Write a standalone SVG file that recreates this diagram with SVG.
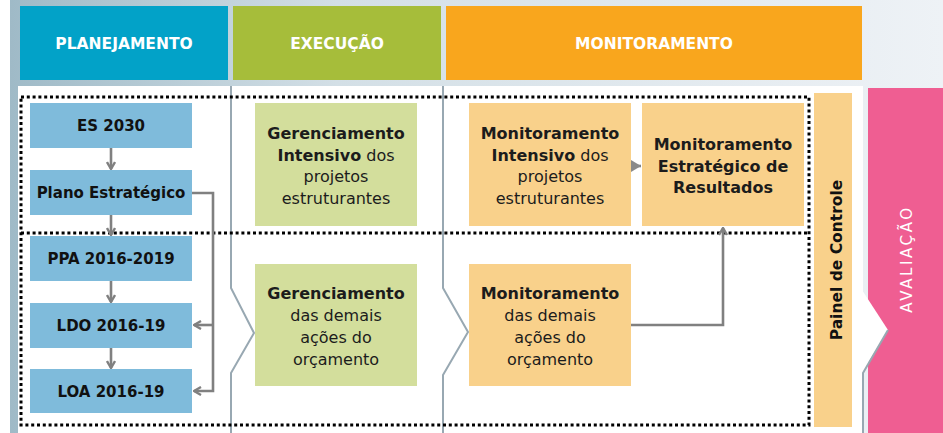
<svg xmlns="http://www.w3.org/2000/svg" width="943" height="433" viewBox="0 0 943 433">
<defs>
<linearGradient id="bg" x1="0" y1="0" x2="1" y2="0">
<stop offset="0" stop-color="#9fbac7"/>
<stop offset="0.35" stop-color="#d3dfe6"/>
<stop offset="1" stop-color="#eef2f6"/>
</linearGradient>
<marker id="av" viewBox="0 0 10 10" refX="9" refY="5" markerWidth="10" markerHeight="10" markerUnits="userSpaceOnUse" orient="auto">
<path d="M2,1 L9,5 L2,9" fill="none" stroke="#808080" stroke-width="2.4" stroke-linejoin="miter"/>
</marker>
<marker id="tri" viewBox="0 0 10 12" refX="10" refY="6" markerWidth="10" markerHeight="12" markerUnits="userSpaceOnUse" orient="auto">
<path d="M0,0 L10,6 L0,12 Z" fill="#8a8a8a"/>
</marker>
</defs>
<style>
.hd{font-family:"DejaVu Sans",sans-serif;font-weight:bold;font-size:15.5px;fill:#ffffff;text-anchor:middle}
.bl{fill:#7fbbdb}
.gr{fill:#d3de9c}
.or{fill:#f9d18b}
.bt{font-family:"DejaVu Sans",sans-serif;font-weight:bold;font-size:15px;fill:#111111;text-anchor:middle}
.tx{font-family:"DejaVu Sans",sans-serif;font-size:16px;fill:#1c1c1c;text-anchor:middle}
.b{font-weight:bold}
.sep{fill:none;stroke:#98a8b2;stroke-width:2}
.dot{fill:none;stroke:#000000;stroke-width:3;stroke-dasharray:3 2.8}
.cn{fill:none;stroke:#808080;stroke-width:2.6}
</style>
<rect x="0" y="0" width="943" height="433" fill="#ffffff"/>
<rect x="10" y="0" width="933" height="433" fill="url(#bg)"/>
<g id="headers">
<g id="h-planejamento"><rect x="20" y="6" width="208" height="74" fill="#02a2c8"/><text class="hd" x="124" y="49">PLANEJAMENTO</text></g>
<g id="h-execucao"><rect x="233" y="6" width="208" height="74" fill="#a6bd3a"/><text class="hd" x="337" y="49">EXECUÇÃO</text></g>
<g id="h-monitoramento"><rect x="446" y="6" width="416" height="74" fill="#f9a61d"/><text class="hd" x="654" y="49">MONITORAMENTO</text></g>
</g>
<g id="avaliacao">
<rect x="868" y="88" width="75" height="345" fill="#ef5e92"/>
<text font-family="DejaVu Sans, sans-serif" font-size="15" fill="#ffffff" text-anchor="middle" letter-spacing="2.6" transform="translate(912,259) rotate(-90)">AVALIAÇÃO</text>
</g>
<g id="panels">
<rect x="18" y="86" width="845" height="347" fill="#ffffff"/>
<polygon points="862,290 888,330 862,373" fill="#ffffff"/>
<polyline class="sep" points="888,330 863,373 863,433"/>
<polyline class="sep" points="231,86 231,288 254,333 231,373 231,433"/>
<polyline class="sep" points="443,86 443,288 468,332 443,375 443,433"/>
</g>
<g id="painel">
<rect x="814" y="93" width="38" height="334" fill="#f9d18b"/>
<text font-family="DejaVu Sans, sans-serif" font-weight="bold" font-size="15.5" fill="#111111" text-anchor="middle" transform="translate(842,260) rotate(-90)">Painel de Controle</text>
</g>
<g id="dotted">
<rect class="dot" x="21" y="97" width="788" height="328"/>
<line class="dot" x1="21" y1="233" x2="809" y2="233"/>
</g>
<g id="es2030"><rect class="bl" x="30" y="103" width="162" height="45"/><text class="bt" x="111" y="131">ES 2030</text></g>
<g id="plano"><rect class="bl" x="30" y="170" width="162" height="45"/><text class="bt" x="111" y="198">Plano Estratégico</text></g>
<g id="ppa"><rect class="bl" x="30" y="236" width="162" height="45"/><text class="bt" x="111" y="264">PPA 2016-2019</text></g>
<g id="ldo"><rect class="bl" x="30" y="303" width="162" height="45"/><text class="bt" x="111" y="331">LDO 2016-19</text></g>
<g id="loa"><rect class="bl" x="30" y="369" width="162" height="44"/><text class="bt" x="111" y="396.5">LOA 2016-19</text></g>
<g id="ger-intensivo"><rect class="gr" x="255" y="103" width="162" height="123"/>
<text class="tx" x="336" y="139"><tspan class="b">Gerenciamento</tspan></text>
<text class="tx" x="336" y="160.5"><tspan class="b">Intensivo</tspan> dos</text>
<text class="tx" x="336" y="182">projetos</text>
<text class="tx" x="336" y="203.5">estruturantes</text></g>
<g id="ger-demais"><rect class="gr" x="255" y="264" width="162" height="122"/>
<text class="tx" x="336" y="299"><tspan class="b">Gerenciamento</tspan></text>
<text class="tx" x="336" y="321">das demais</text>
<text class="tx" x="336" y="343">ações do</text>
<text class="tx" x="336" y="365">orçamento</text></g>
<g id="mon-intensivo"><rect class="or" x="469" y="103" width="162" height="123"/>
<text class="tx" x="550" y="139"><tspan class="b">Monitoramento</tspan></text>
<text class="tx" x="550" y="160.5"><tspan class="b">Intensivo</tspan> dos</text>
<text class="tx" x="550" y="182">projetos</text>
<text class="tx" x="550" y="203.5">estruturantes</text></g>
<g id="mon-estrategico"><rect class="or" x="642" y="103" width="162" height="123"/>
<text class="tx b" x="723" y="150">Monitoramento</text>
<text class="tx b" x="723" y="171.5">Estratégico de</text>
<text class="tx b" x="723" y="193">Resultados</text></g>
<g id="mon-demais"><rect class="or" x="469" y="264" width="162" height="122"/>
<text class="tx" x="550" y="299"><tspan class="b">Monitoramento</tspan></text>
<text class="tx" x="550" y="321">das demais</text>
<text class="tx" x="550" y="343">ações do</text>
<text class="tx" x="550" y="365">orçamento</text></g>
<g id="connectors">
<line class="cn" x1="111" y1="148" x2="111" y2="169" marker-end="url(#av)"/>
<line class="cn" x1="111" y1="215" x2="111" y2="235" marker-end="url(#av)"/>
<line class="cn" x1="111" y1="281" x2="111" y2="302" marker-end="url(#av)"/>
<line class="cn" x1="111" y1="348" x2="111" y2="368" marker-end="url(#av)"/>
<polyline class="cn" points="192,193 213,193 213,391 194,391" marker-end="url(#av)"/>
<polyline class="cn" points="213,325 194,325" marker-end="url(#av)"/>
<line class="cn" x1="632" y1="166" x2="641" y2="166" marker-end="url(#tri)"/>
<polyline class="cn" points="631,325 723,325 723,228" marker-end="url(#av)"/>
</g>
</svg>
